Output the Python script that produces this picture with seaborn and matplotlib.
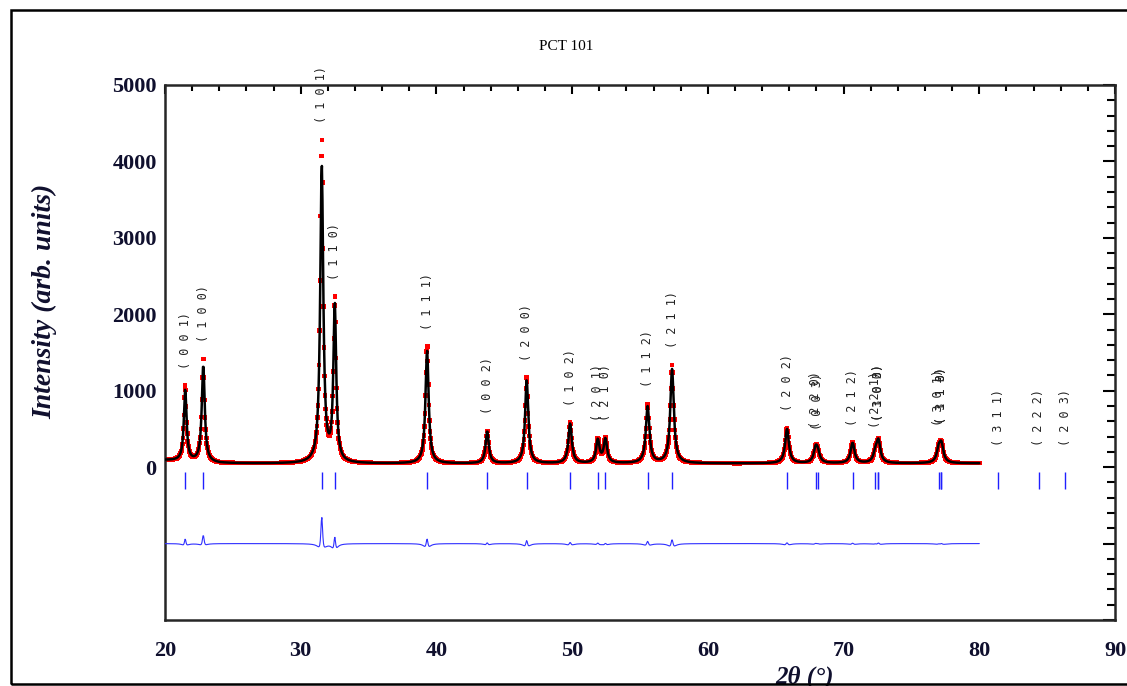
import numpy as np
import pandas as pd
import matplotlib
matplotlib.use("Agg")
import matplotlib.pyplot as plt
import seaborn as sns
from matplotlib.ticker import MultipleLocator, FuncFormatter
from matplotlib.patches import Rectangle

# ---------------- data ----------------
hkl_labels = ["( 0 0 1)", "( 1 0 0)", "( 1 0 1)", "( 1 1 0)", "( 1 1 1)",
              "( 0 0 2)", "( 2 0 0)", "( 1 0 2)", "( 2 0 1)", "( 2 1 0)",
              "( 1 1 2)", "( 2 1 1)", "( 2 0 2)", "( 2 2 0)", "( 0 0 3)",
              "( 2 1 2)", "( 2 2 1)", "( 1 0 3)", "( 3 0 0)", "( 3 0 1)",
              "( 1 1 3)", "( 3 1 0)", "( 3 1 1)", "( 2 2 2)", "( 2 0 3)"]
hkl_2theta = [21.49, 22.82, 31.55, 32.51, 39.31,
              43.74, 46.65, 49.85, 51.89, 52.45,
              55.56, 57.36, 65.83, 67.94, 68.10,
              70.66, 72.34, 72.55, 72.57, 77.01,
              77.19, 77.21, 81.38, 84.38, 86.32]
# peak intensities above background (calculated / observed) and widths (deg)
calc_height = [930, 1270, 3880, 2040, 1480,
               420, 1090, 520, 300, 310,
               740, 1230, 450, 175, 115,
               265, 115, 105, 175, 160,
               40, 180, 0, 0, 0]
obs_height = [990, 1380, 4230, 2130, 1540,
              430, 1130, 535, 310, 315,
              770, 1280, 460, 180, 120,
              270, 120, 110, 180, 165,
              40, 185, 0, 0, 0]
peak_fwhm = [0.24, 0.26, 0.27, 0.25, 0.28,
             0.28, 0.28, 0.30, 0.30, 0.30,
             0.31, 0.31, 0.33, 0.34, 0.34,
             0.34, 0.34, 0.34, 0.34, 0.35,
             0.35, 0.35, 0.35, 0.35, 0.35]
bg_2theta = [20.0, 24.0, 30.0, 80.0]
bg_counts = [90, 50, 45, 50]
diff_offset = -1000
range_start, range_end, step = 20.0, 80.0, 0.04

# ---------------- profiles ----------------
tt = np.arange(range_start, range_end + step / 2, step)
bg = np.interp(tt, bg_2theta, bg_counts)


def profile(heights, widths):
    y = np.zeros_like(tt)
    for p, h, w in zip(hkl_2theta, heights, widths):
        y += h / (1.0 + ((tt - p) / (w / 2.0)) ** 2)
    return y


calc = bg + profile(calc_height, peak_fwhm)
obs = bg + profile(obs_height, [w * 0.92 for w in peak_fwhm])
diff = obs - calc + diff_offset

# ---------------- figure ----------------
sns.set_style("white")
plt.rcParams['font.family'] = ['Liberation Serif', 'DejaVu Serif']
plt.rcParams['axes.linewidth'] = 1.8

fig = plt.figure(figsize=(11.27, 6.86), dpi=100)
ax = fig.add_axes([0.1464, 0.0962, 0.843, 0.780])

df = pd.DataFrame({"tt": tt, "obs": obs, "calc": calc, "diff": diff})
sns.scatterplot(data=df, x="tt", y="obs", ax=ax, marker="s", s=11,
                color="#ff0000", edgecolor="none", linewidth=0, zorder=2)
sns.lineplot(data=df, x="tt", y="calc", ax=ax, color="black", lw=1.8,
             estimator=None, sort=False, zorder=3)
sns.lineplot(data=df, x="tt", y="diff", ax=ax, color="#2f2fff", lw=0.8,
             estimator=None, sort=False, zorder=3)
ax.vlines(hkl_2theta, -290, -60, color="#2020ff", lw=1.0, zorder=3)

# hkl labels above peaks
bg_last = bg_counts[-1]
for lab, p in zip(hkl_labels, hkl_2theta):
    m = np.abs(tt - p) <= 0.06
    base = obs[m].max() if m.any() else bg_last
    ax.text(p, base + 220, lab, rotation=90, ha="center", va="bottom",
            fontsize=8.5, family="DejaVu Sans Mono", color="#222222", zorder=4)

ax.set_xlim(20, 90)
ax.set_ylim(-2000, 5000)
ax.xaxis.set_major_locator(MultipleLocator(10))
ax.xaxis.set_minor_locator(MultipleLocator(2))
ax.yaxis.set_major_locator(MultipleLocator(1000))
ax.yaxis.set_minor_locator(MultipleLocator(200))
ax.yaxis.set_major_formatter(FuncFormatter(lambda v, pos: f"{int(v)}" if v >= 0 else ""))
ax.tick_params(which="both", direction="in", top=True, right=True, width=1.5,
               colors="black", labelcolor="#10102e")
ax.tick_params(axis="y", which="major", length=9, pad=6, labelsize=16)
ax.tick_params(axis="y", which="minor", length=5.5)
ax.tick_params(axis="x", which="major", length=6.5, pad=15, labelsize=16)
ax.tick_params(axis="x", which="minor", length=4)
for t in ax.get_xticklabels() + ax.get_yticklabels():
    t.set_fontweight("bold")
ax.set_xlabel("")
ax.set_ylabel("")

fig.text(0.502, 1 - 46 / 686, "PCT 101", ha="center", va="center",
         fontsize=11, color="black")
fig.text(45 / 1127, 1 - 301 / 686, "Intensity (arb. units)", rotation=90,
         ha="center", va="center", fontsize=20, fontweight="bold",
         style="italic", color="#10102e")
fig.text(805 / 1127, 1 - 677 / 686, "2θ (°)", ha="center", va="center",
         fontsize=18, fontweight="bold", style="italic", color="#10102e")

fig.add_artist(Rectangle((0.0098, 0.0022), 1.2, 0.9835, transform=fig.transFigure,
                         fill=False, lw=1.8, ec="black", zorder=10))

fig.savefig("out.png", dpi=100)
